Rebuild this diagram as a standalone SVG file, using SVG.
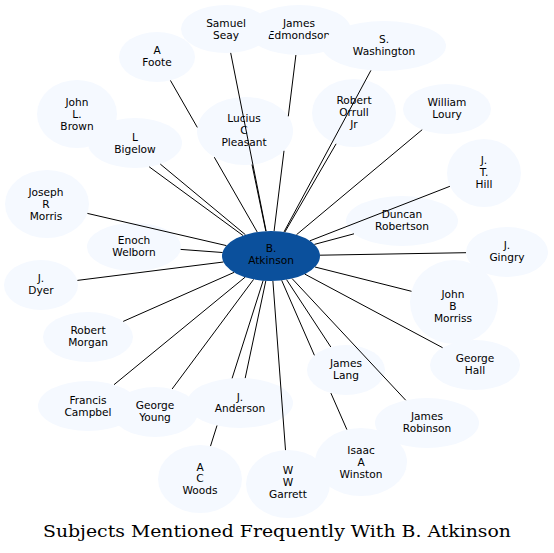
<svg xmlns="http://www.w3.org/2000/svg" width="554" height="553" viewBox="0 0 554 553">
<style>
.n ellipse{fill:#f5f9ff;stroke:none}
.n text,.c text{font-family:"DejaVu Sans","Noto Sans",sans-serif;font-size:10.6px;text-anchor:middle;fill:#000}
.c ellipse{fill:#0b509c;stroke:none}
#edges line{stroke:#000;stroke-width:1}
.title{font-family:"DejaVu Serif","Liberation Serif",serif;font-size:17px;text-anchor:middle;fill:#000}
</style>
<rect width="554" height="553" fill="#fff"/>
<g id="nodes">
<g id="n-foote" class="n"><ellipse cx="157" cy="57" rx="38" ry="25"/><text x="157"><tspan x="157" y="54">A</tspan><tspan x="157" y="66">Foote</tspan></text></g>
<g id="n-edmondson" class="n"><ellipse cx="299" cy="30" rx="52" ry="25"/><text><tspan x="299" y="27">James</tspan><tspan x="299" y="39">Edmondson</tspan></text></g>
<g id="n-seay" class="n"><ellipse cx="226" cy="29" rx="45" ry="24"/><text><tspan x="226" y="27">Samuel</tspan><tspan x="226" y="39">Seay</tspan></text></g>
<g id="n-washington" class="n"><ellipse cx="384" cy="46" rx="62" ry="25"/><text><tspan x="384" y="43">S.</tspan><tspan x="384" y="55">Washington</tspan></text></g>
<g id="n-orrull" class="n"><ellipse cx="354" cy="113" rx="42" ry="34"/><text><tspan x="354" y="104">Robert</tspan><tspan x="354" y="116">Orrull</tspan><tspan x="354" y="128">Jr</tspan></text></g>
<g id="n-loury" class="n"><ellipse cx="447" cy="109" rx="44" ry="25"/><text><tspan x="447" y="106">William</tspan><tspan x="447" y="118">Loury</tspan></text></g>
<g id="n-hill" class="n"><ellipse cx="484" cy="173" rx="37" ry="34"/><text><tspan x="484" y="164">J.</tspan><tspan x="484" y="176">T.</tspan><tspan x="484" y="188">Hill</tspan></text></g>
<g id="n-robertson" class="n"><ellipse cx="402" cy="221" rx="56" ry="25"/><text><tspan x="402" y="218">Duncan</tspan><tspan x="402" y="230">Robertson</tspan></text></g>
<g id="n-gingry" class="n"><ellipse cx="507" cy="252" rx="41" ry="25"/><text><tspan x="507" y="249">J.</tspan><tspan x="507" y="261">Gingry</tspan></text></g>
<g id="n-morriss" class="n"><ellipse cx="454" cy="302" rx="44" ry="42"/><text><tspan x="453" y="298">John</tspan><tspan x="453" y="310">B</tspan><tspan x="453" y="322">Morriss</tspan></text></g>
<g id="n-hall" class="n"><ellipse cx="475" cy="365" rx="45" ry="25"/><text><tspan x="475" y="362">George</tspan><tspan x="475" y="374">Hall</tspan></text></g>
<g id="n-jrobinson" class="n"><ellipse cx="427" cy="423" rx="52" ry="25"/><text><tspan x="427" y="420">James</tspan><tspan x="427" y="432">Robinson</tspan></text></g>
<g id="n-garrett" class="n"><ellipse cx="288" cy="484" rx="42" ry="34"/><text><tspan x="288" y="474">W</tspan><tspan x="288" y="486">W</tspan><tspan x="288" y="498">Garrett</tspan></text></g>
<g id="n-winston" class="n"><ellipse cx="361" cy="462" rx="46" ry="34"/><text><tspan x="361" y="454">Isaac</tspan><tspan x="361" y="466">A</tspan><tspan x="361" y="478">Winston</tspan></text></g>
<g id="n-lang" class="n"><ellipse cx="346" cy="370" rx="39" ry="25"/><text><tspan x="346" y="367">James</tspan><tspan x="346" y="379">Lang</tspan></text></g>
<g id="n-woods" class="n"><ellipse cx="200" cy="479" rx="42" ry="34"/><text><tspan x="200" y="471">A</tspan><tspan x="200" y="482">C</tspan><tspan x="200" y="494">Woods</tspan></text></g>
<g id="n-campbel" class="n"><ellipse cx="88" cy="406" rx="50" ry="25"/><text><tspan x="88" y="404">Francis</tspan><tspan x="88" y="416">Campbel</tspan></text></g>
<g id="n-young" class="n"><ellipse cx="155" cy="412" rx="43" ry="25"/><text><tspan x="155" y="409">George</tspan><tspan x="155" y="421">Young</tspan></text></g>
<g id="n-anderson" class="n"><ellipse cx="240" cy="403" rx="53" ry="25"/><text><tspan x="240" y="401">J.</tspan><tspan x="240" y="412">Anderson</tspan></text></g>
<g id="n-morgan" class="n"><ellipse cx="88" cy="337" rx="45" ry="25"/><text><tspan x="88" y="334">Robert</tspan><tspan x="88" y="346">Morgan</tspan></text></g>
<g id="n-dyer" class="n"><ellipse cx="41" cy="285" rx="37" ry="25"/><text><tspan x="41" y="282">J.</tspan><tspan x="41" y="294">Dyer</tspan></text></g>
<g id="n-welborn" class="n"><ellipse cx="134" cy="247" rx="47" ry="24"/><text><tspan x="134" y="244">Enoch</tspan><tspan x="134" y="256">Welborn</tspan></text></g>
<g id="n-jmorris" class="n"><ellipse cx="47" cy="204" rx="42" ry="34"/><text><tspan x="46" y="196">Joseph</tspan><tspan x="46" y="208">R</tspan><tspan x="46" y="220">Morris</tspan></text></g>
<g id="n-brown" class="n"><ellipse cx="77" cy="114" rx="40" ry="34"/><text><tspan x="77" y="106">John</tspan><tspan x="77" y="118">L.</tspan><tspan x="77" y="130">Brown</tspan></text></g>
<g id="n-bigelow" class="n"><ellipse cx="135" cy="143" rx="47" ry="25"/><text><tspan x="135" y="141">L</tspan><tspan x="135" y="153">Bigelow</tspan></text></g>
<g id="n-pleasant" class="n"><ellipse cx="245" cy="131" rx="48" ry="34"/><text><tspan x="244" y="122">Lucius</tspan><tspan x="244" y="134">C</tspan><tspan x="244" y="146">Pleasant</tspan></text></g>
<g id="n-atkinson" class="c"><ellipse cx="271" cy="256" rx="49" ry="25"/><text><tspan x="271" y="252">B.</tspan><tspan x="271" y="264">Atkinson</tspan></text></g>
</g>
<g id="edges">
<line x1="257.2" y1="232.0" x2="214.3" y2="157.2"/><line x1="197.3" y1="127.4" x2="170.4" y2="80.4"/>
<line x1="266.1" y1="231.1" x2="230.7" y2="52.9"/>
<line x1="274.1" y1="231.0" x2="284.0" y2="150.8"/><line x1="288.3" y1="116.3" x2="295.9" y2="55.0"/>
<line x1="284.0" y1="231.9" x2="370.9" y2="70.4"/>
<line x1="284.9" y1="232.0" x2="336.1" y2="143.8"/>
<line x1="296.5" y1="234.7" x2="422.2" y2="129.7"/>
<line x1="309.9" y1="240.8" x2="449.9" y2="186.3"/>
<line x1="314.4" y1="244.4" x2="354.0" y2="233.8"/>
<line x1="320.0" y1="255.2" x2="466.0" y2="252.7"/>
<line x1="315.0" y1="267.0" x2="411.5" y2="291.3"/>
<line x1="304.8" y1="274.1" x2="442.6" y2="347.7"/>
<line x1="292.1" y1="278.6" x2="405.7" y2="400.2"/>
<line x1="286.6" y1="279.7" x2="330.8" y2="347.0"/>
<line x1="281.7" y1="280.4" x2="314.4" y2="355.3"/><line x1="330.9" y1="393.1" x2="346.9" y2="429.6"/>
<line x1="272.9" y1="281.0" x2="285.5" y2="450.1"/>
<line x1="263.1" y1="280.7" x2="232.1" y2="378.3"/><line x1="217.0" y1="425.5" x2="210.5" y2="446.1"/>
<line x1="265.8" y1="280.9" x2="245.2" y2="378.1"/>
<line x1="253.6" y1="279.4" x2="172.1" y2="389.0"/>
<line x1="245.1" y1="277.2" x2="114.0" y2="384.7"/>
<line x1="234.0" y1="272.4" x2="123.2" y2="321.4"/>
<line x1="223.4" y1="262.0" x2="77.4" y2="280.4"/>
<line x1="222.5" y1="252.5" x2="180.6" y2="249.4"/>
<line x1="226.4" y1="245.6" x2="87.4" y2="213.4"/>
<line x1="245.4" y1="234.7" x2="160.3" y2="164.1"/>
<line x1="243.0" y1="235.5" x2="149.2" y2="166.8"/>
<line x1="265.8" y1="231.1" x2="252.0" y2="164.6"/>
</g>
<text class="title" x="277" y="537" textLength="468" lengthAdjust="spacingAndGlyphs">Subjects Mentioned Frequently With B. Atkinson</text>
</svg>
